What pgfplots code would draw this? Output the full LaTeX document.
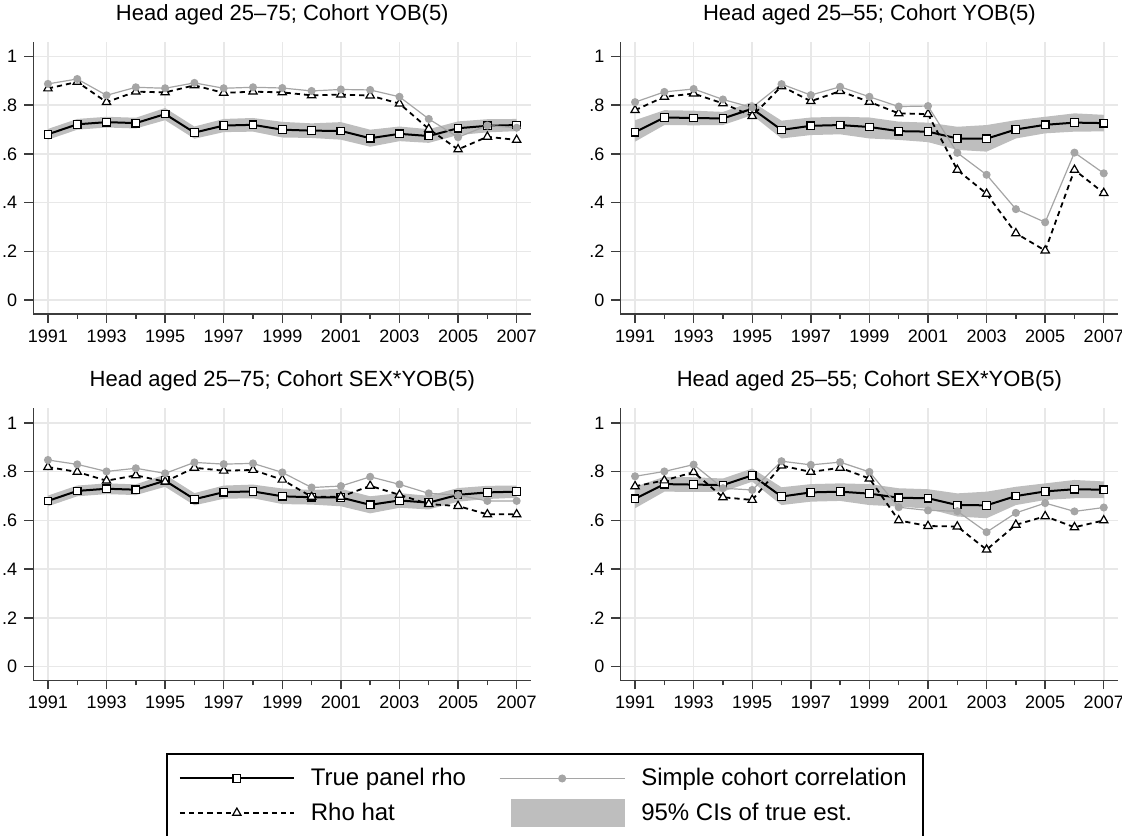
\documentclass[border=0pt]{standalone}
\usepackage{fontspec}
\setmainfont{Liberation Sans}
\usepackage{pgfplots}
\usepackage{pgfplotstable}
\pgfplotsset{compat=1.18}
\usepgfplotslibrary{fillbetween}

\definecolor{bandgray}{RGB}{190,190,190}
\definecolor{cohgray}{RGB}{165,165,165}
\definecolor{gridgray}{RGB}{232,232,232}
\definecolor{axisgray}{RGB}{60,60,60}

% true panel rho with 95% CI, head aged 25-75
\pgfplotstableread{
year rho lo hi
1991 0.680 0.658 0.702
1992 0.721 0.699 0.743
1993 0.730 0.708 0.752
1994 0.726 0.704 0.748
1995 0.763 0.738 0.788
1996 0.687 0.662 0.712
1997 0.716 0.689 0.743
1998 0.719 0.691 0.747
1999 0.699 0.667 0.731
2000 0.695 0.665 0.725
2001 0.694 0.658 0.730
2002 0.664 0.629 0.699
2003 0.682 0.652 0.712
2004 0.673 0.645 0.701
2005 0.705 0.677 0.733
2006 0.715 0.688 0.742
2007 0.718 0.693 0.743
}\trueA

% head aged 25-55
\pgfplotstableread{
year rho lo hi
1991 0.689 0.650 0.738
1992 0.749 0.718 0.779
1993 0.747 0.717 0.777
1994 0.745 0.718 0.772
1995 0.785 0.759 0.813
1996 0.698 0.663 0.736
1997 0.715 0.677 0.749
1998 0.718 0.680 0.752
1999 0.710 0.663 0.749
2000 0.693 0.657 0.732
2001 0.691 0.648 0.728
2002 0.663 0.616 0.711
2003 0.662 0.609 0.718
2004 0.700 0.663 0.738
2005 0.719 0.684 0.752
2006 0.728 0.691 0.766
2007 0.726 0.692 0.760
}\trueB

\pgfplotstableread{
year hat coh
1991 0.868 0.887
1992 0.895 0.907
1993 0.812 0.840
1994 0.855 0.873
1995 0.852 0.869
1996 0.881 0.891
1997 0.850 0.869
1998 0.855 0.873
1999 0.852 0.870
2000 0.840 0.858
2001 0.843 0.864
2002 0.839 0.862
2003 0.806 0.834
2004 0.702 0.743
2005 0.618 0.668
2006 0.670 0.716
2007 0.657 0.707
}\estTL

\pgfplotstableread{
year hat coh
1991 0.779 0.812
1992 0.834 0.854
1993 0.847 0.866
1994 0.807 0.823
1995 0.755 0.790
1996 0.877 0.886
1997 0.816 0.841
1998 0.857 0.875
1999 0.813 0.834
2000 0.766 0.794
2001 0.763 0.796
2002 0.534 0.604
2003 0.436 0.514
2004 0.274 0.373
2005 0.203 0.319
2006 0.534 0.605
2007 0.439 0.520
}\estTR

\pgfplotstableread{
year hat coh
1991 0.819 0.848
1992 0.799 0.830
1993 0.763 0.801
1994 0.785 0.814
1995 0.759 0.793
1996 0.816 0.838
1997 0.804 0.831
1998 0.807 0.834
1999 0.767 0.797
2000 0.697 0.735
2001 0.697 0.741
2002 0.742 0.779
2003 0.705 0.748
2004 0.667 0.711
2005 0.659 0.704
2006 0.625 0.680
2007 0.625 0.680
}\estBL

\pgfplotstableread{
year hat coh
1991 0.740 0.781
1992 0.764 0.801
1993 0.798 0.829
1994 0.695 0.732
1995 0.684 0.725
1996 0.825 0.843
1997 0.799 0.828
1998 0.816 0.839
1999 0.772 0.799
2000 0.600 0.654
2001 0.577 0.641
2002 0.575 0.638
2003 0.480 0.552
2004 0.582 0.631
2005 0.617 0.671
2006 0.572 0.637
2007 0.600 0.653
}\estBR

\pgfplotsset{
  panel/.style={
    scale only axis, width=249pt, height=136pt,
    anchor=north west,
    xmin=1990.5, xmax=2007.5, ymin=-0.056, ymax=1.06,
    axis x line*=bottom, axis y line*=left,
    axis line style={axisgray, line width=0.8pt, -},
    xtick={1991,1993,1995,1997,1999,2001,2003,2005,2007},
    minor xtick={1992,1994,1996,1998,2000,2002,2004,2006},
    ytick={0,0.2,0.4,0.6,0.8,1}, yticklabels={0,.2,.4,.6,.8,1},
    xmajorgrids, ymajorgrids,
    grid style={gridgray, line width=0.8pt},
    tick align=outside, major tick length=4.5pt, minor tick length=2.5pt,
    tick style={axisgray, line width=0.7pt},
    xticklabel style={/pgf/number format/1000 sep={}},
    /pgf/number format/assume math mode=true,
    tick label style={font=\fontsize{9}{10}\selectfont},
    title style={font=\fontsize{11}{13}\selectfont, at={(0.5,1)}, anchor=base, yshift=4.7pt},
  },
  truestyle/.style={black, line width=1pt, mark=square*, mark size=1.9pt,
    mark options={fill=white, draw=black, line width=0.6pt, solid}},
  hatstyle/.style={black, line width=0.9pt, dash pattern=on 2.6pt off 2pt,
    mark=triangle*, mark size=2.4pt,
    mark options={fill=white, draw=black, line width=0.6pt, solid}},
  cohstyle/.style={cohgray, line width=0.6pt, mark=*, mark size=1.7pt,
    mark options={fill=cohgray, draw=cohgray, solid}},
  shortline/.style={legend image code/.code={
    \draw[mark repeat=2,mark phase=2,##1] plot coordinates {(0pt,0pt) (28.5pt,0pt) (57pt,0pt)};}},
  longline/.style={legend image code/.code={
    \draw[mark repeat=2,mark phase=2,##1] plot coordinates {(0pt,0pt) (31.25pt,0pt) (62.5pt,0pt)};}},
  bandbox/.style={legend image code/.code={
    \fill[##1] (5.5pt,-7pt) rectangle (62.5pt,7pt);}},
}

\begin{document}
\begin{tikzpicture}

\begin{axis}[panel, at={(16.65pt,-20.85pt)},
  title={Head aged 25\textendash75; Cohort YOB(5)}]
\addplot[name path=hiA, draw=none, forget plot] table[x=year, y=hi] {\trueA};
\addplot[name path=loA, draw=none, forget plot] table[x=year, y=lo] {\trueA};
\addplot[fill=bandgray, draw=none, forget plot] fill between[of=hiA and loA];
\addplot[truestyle, forget plot] table[x=year, y=rho] {\trueA};
\addplot[hatstyle, forget plot] table[x=year, y=hat] {\estTL};
\addplot[cohstyle, forget plot] table[x=year, y=coh] {\estTL};
\end{axis}

\begin{axis}[panel, at={(310.2pt,-20.85pt)},
  title={Head aged 25\textendash55; Cohort YOB(5)}]
\addplot[name path=hiB, draw=none, forget plot] table[x=year, y=hi] {\trueB};
\addplot[name path=loB, draw=none, forget plot] table[x=year, y=lo] {\trueB};
\addplot[fill=bandgray, draw=none, forget plot] fill between[of=hiB and loB];
\addplot[truestyle, forget plot] table[x=year, y=rho] {\trueB};
\addplot[hatstyle, forget plot] table[x=year, y=hat] {\estTR};
\addplot[cohstyle, forget plot] table[x=year, y=coh] {\estTR};
\end{axis}

\begin{axis}[panel, at={(16.65pt,-204.15pt)},
  title={Head aged 25\textendash75; Cohort SEX*YOB(5)},
  legend columns=2, legend cell align=left,
  legend style={at={(0.2666,-0.269)}, anchor=north west,
    draw=black, line width=0.8pt, fill=white,
    inner xsep=6pt, inner ysep=5pt, row sep=3pt,
    font=\fontsize{12}{14}\selectfont,
    /tikz/every odd column/.append style={column sep=6pt},
    /tikz/every even column/.append style={column sep=14.5pt}}]
\addplot[name path=hiC, draw=none, forget plot] table[x=year, y=hi] {\trueA};
\addplot[name path=loC, draw=none, forget plot] table[x=year, y=lo] {\trueA};
\addplot[fill=bandgray, draw=none, forget plot] fill between[of=hiC and loC];
\addplot[truestyle, forget plot] table[x=year, y=rho] {\trueA};
\addplot[hatstyle, forget plot] table[x=year, y=hat] {\estBL};
\addplot[cohstyle, forget plot] table[x=year, y=coh] {\estBL};
\addlegendimage{truestyle, shortline}
\addlegendentry{True panel rho}
\addlegendimage{cohstyle, longline}
\addlegendentry{Simple cohort correlation}
\addlegendimage{hatstyle, shortline}
\addlegendentry{Rho hat}
\addlegendimage{fill=bandgray, draw=none, bandbox}
\addlegendentry{95\% CIs of true est.}
\end{axis}

\begin{axis}[panel, at={(310.2pt,-204.15pt)},
  title={Head aged 25\textendash55; Cohort SEX*YOB(5)}]
\addplot[name path=hiD, draw=none, forget plot] table[x=year, y=hi] {\trueB};
\addplot[name path=loD, draw=none, forget plot] table[x=year, y=lo] {\trueB};
\addplot[fill=bandgray, draw=none, forget plot] fill between[of=hiD and loD];
\addplot[truestyle, forget plot] table[x=year, y=rho] {\trueB};
\addplot[hatstyle, forget plot] table[x=year, y=hat] {\estBR};
\addplot[cohstyle, forget plot] table[x=year, y=coh] {\estBR};
\end{axis}

\pgfresetboundingbox
\path[use as bounding box] (0pt,0pt) rectangle (561pt,-417.5pt);
\end{tikzpicture}
\end{document}
